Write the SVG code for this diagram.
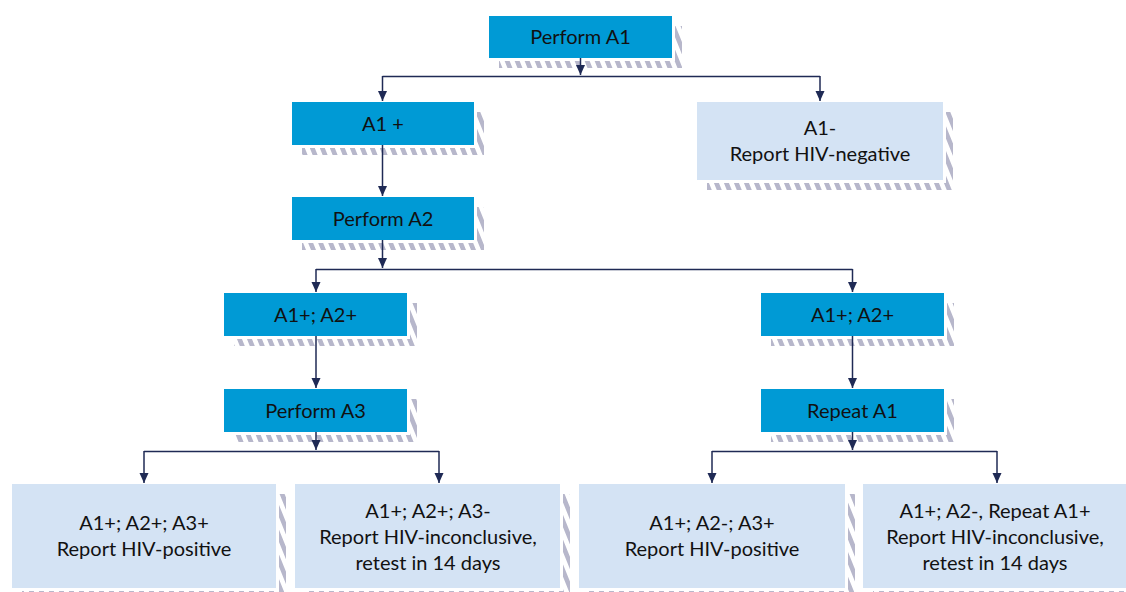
<svg xmlns="http://www.w3.org/2000/svg" width="1126" height="592" viewBox="0 0 1126 592">
  <style>
    .dark { fill: #009ad5; }
    .light { fill: #d4e3f4; }
    .gap { fill: #ffffff; }
    .shadow { fill: url(#hatch); }
    text { font-family: Lato, "Liberation Sans", sans-serif; font-size: 20px; fill: #111111; text-anchor: middle; }
    .conn { stroke: #1f2a55; stroke-width: 1.5; fill: none; }
    .arr { marker-end: url(#ah); }
  </style>
  <defs>
    <pattern id="hatch" width="10" height="10" patternUnits="userSpaceOnUse" patternTransform="skewX(22)">
      <rect width="5" height="10" fill="#b7b7cb"/>
    </pattern>
    <marker id="ah" viewBox="0 0 10 10" refX="10" refY="5" markerWidth="10" markerHeight="10" markerUnits="userSpaceOnUse" orient="auto">
      <path d="M0,0.5 L10,5 L0,9.5 z" fill="#1f2a55"/>
    </marker>
  </defs>

  <g id="n1">
    <rect class="shadow" x="499" y="26" width="183" height="42"/>
    <rect class="gap" x="489" y="16" width="186" height="45"/>
    <rect class="dark" x="489" y="16" width="183" height="42"/>
    <text x="580.5" y="44">Perform A1</text>
  </g>
  <g id="n2">
    <rect class="shadow" x="302" y="112" width="182" height="43"/>
    <rect class="gap" x="292" y="102" width="185" height="46"/>
    <rect class="dark" x="292" y="102" width="182" height="43"/>
    <text x="383" y="130.5">A1 +</text>
  </g>
  <g id="n3">
    <rect class="shadow" x="707" y="112" width="246" height="78"/>
    <rect class="gap" x="697" y="102" width="249" height="81"/>
    <rect class="light" x="697" y="102" width="246" height="78"/>
    <text x="820" y="135">A1-</text>
    <text x="820" y="161">Report HIV-negative</text>
  </g>
  <g id="n4">
    <rect class="shadow" x="302" y="207" width="182" height="43"/>
    <rect class="gap" x="292" y="197" width="185" height="46"/>
    <rect class="dark" x="292" y="197" width="182" height="43"/>
    <text x="383" y="225.5">Perform A2</text>
  </g>
  <g id="n5">
    <rect class="shadow" x="234" y="303" width="183" height="43"/>
    <rect class="gap" x="224" y="293" width="186" height="46"/>
    <rect class="dark" x="224" y="293" width="183" height="43"/>
    <text x="315.5" y="321.5">A1+; A2+</text>
  </g>
  <g id="n6">
    <rect class="shadow" x="771" y="303" width="183" height="43"/>
    <rect class="gap" x="761" y="293" width="186" height="46"/>
    <rect class="dark" x="761" y="293" width="183" height="43"/>
    <text x="852.5" y="321.5">A1+; A2+</text>
  </g>
  <g id="n7">
    <rect class="shadow" x="234" y="399" width="183" height="43"/>
    <rect class="gap" x="224" y="389" width="186" height="46"/>
    <rect class="dark" x="224" y="389" width="183" height="43"/>
    <text x="315.5" y="417.5">Perform A3</text>
  </g>
  <g id="n8">
    <rect class="shadow" x="771" y="399" width="183" height="43"/>
    <rect class="gap" x="761" y="389" width="186" height="46"/>
    <rect class="dark" x="761" y="389" width="183" height="43"/>
    <text x="852.5" y="417.5">Repeat A1</text>
  </g>
  <g id="n9">
    <rect class="shadow" x="22" y="494" width="264" height="104"/>
    <rect class="gap" x="12" y="484" width="267" height="107"/>
    <rect class="light" x="12" y="484" width="264" height="104"/>
    <text x="144" y="530">A1+; A2+; A3+</text>
    <text x="144" y="556">Report HIV-positive</text>
  </g>
  <g id="n10">
    <rect class="shadow" x="305" y="494" width="265" height="104"/>
    <rect class="gap" x="295" y="484" width="268" height="107"/>
    <rect class="light" x="295" y="484" width="265" height="104"/>
    <text x="428" y="518">A1+; A2+; A3-</text>
    <text x="428" y="544">Report HIV-inconclusive,</text>
    <text x="428" y="570">retest in 14 days</text>
  </g>
  <g id="n11">
    <rect class="shadow" x="589" y="494" width="266" height="104"/>
    <rect class="gap" x="579" y="484" width="269" height="107"/>
    <rect class="light" x="579" y="484" width="266" height="104"/>
    <text x="712" y="530">A1+; A2-; A3+</text>
    <text x="712" y="556">Report HIV-positive</text>
  </g>
  <g id="n12">
    <rect class="shadow" x="873" y="494" width="264" height="104"/>
    <rect class="gap" x="863" y="484" width="267" height="107"/>
    <rect class="light" x="863" y="484" width="264" height="104"/>
    <text x="995" y="518">A1+; A2-, Repeat A1+</text>
    <text x="995" y="544">Report HIV-inconclusive,</text>
    <text x="995" y="570">retest in 14 days</text>
  </g>

  <g id="connectors">
    <path class="conn arr" d="M580.5,58 V75"/>
    <path class="conn" d="M382.5,76.5 H820"/>
    <path class="conn arr" d="M382.5,76 V101"/>
    <path class="conn arr" d="M820,76 V101"/>
    <path class="conn arr" d="M382.5,145 V196"/>
    <path class="conn arr" d="M382.5,240 V268"/>
    <path class="conn" d="M316,269.5 H852.5"/>
    <path class="conn arr" d="M316,269 V292"/>
    <path class="conn arr" d="M852.5,269 V292"/>
    <path class="conn arr" d="M316,336 V388"/>
    <path class="conn arr" d="M852.5,336 V388"/>
    <path class="conn arr" d="M316,432 V450"/>
    <path class="conn" d="M144,451.5 H439"/>
    <path class="conn arr" d="M144,451 V483"/>
    <path class="conn arr" d="M439,451 V483"/>
    <path class="conn arr" d="M852.5,432 V450"/>
    <path class="conn" d="M712,451.5 H997"/>
    <path class="conn arr" d="M712,451 V483"/>
    <path class="conn arr" d="M997,451 V483"/>
  </g>
</svg>
